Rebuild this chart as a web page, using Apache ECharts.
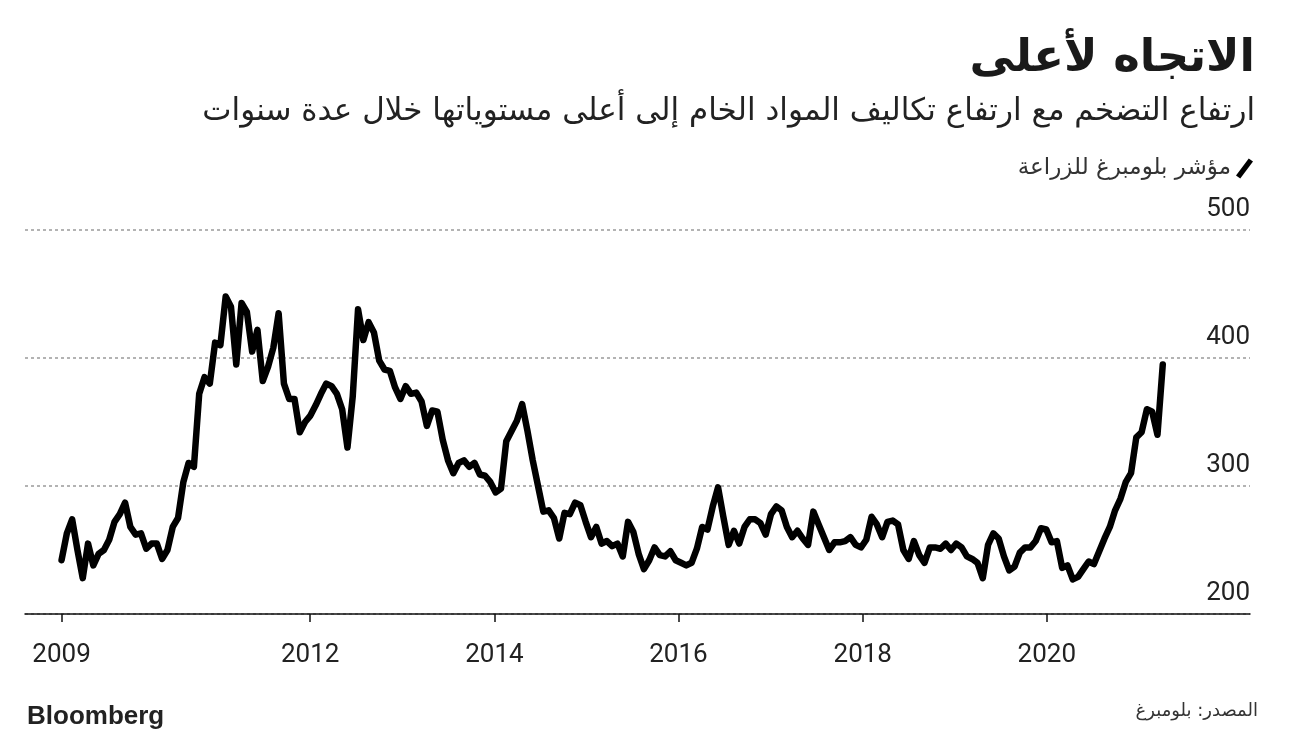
<!DOCTYPE html>
<html>
<head>
<meta charset="utf-8">
<script src="https://cdn.jsdelivr.net/npm/echarts@6/dist/echarts.min.js"></script>
<style>
  html, body { margin: 0; padding: 0; background: #fff; }
  #chart { width: 1296px; height: 744px; }
</style>
</head>
<body>
<div id="chart"></div>
<script>
// Bloomberg Agriculture index, one reading every 3 weeks
const startDate = '2009-04-20'
const stepDays = 21
const agriValues = [
  242, 263, 274, 250, 228, 255, 238, 247, 250, 258,
  272, 278, 287, 268, 262, 263, 251, 255, 255, 243,
  250, 268, 275, 303, 318, 315, 372, 385, 380, 412,
  410, 448, 440, 395, 443, 436, 405, 422, 382, 393,
  408, 435, 380, 368, 368, 342, 350, 355, 363, 372,
  380, 378, 372, 360, 330, 370, 438, 414, 428, 420,
  398, 391, 390, 377, 368, 378, 372, 373, 366, 347,
  359, 358, 336, 320, 310, 318, 320, 315, 318, 309,
  308, 303, 295, 298, 335, 343, 351, 364, 343, 320,
  300, 280, 281, 275, 259, 279, 278, 287, 285, 272,
  260, 268, 255, 257, 253, 255, 245, 272, 264, 247,
  235, 242, 252, 246, 245, 249, 242, 240, 238, 240,
  251, 268, 266, 284, 299, 276, 254, 265, 255, 268,
  274, 274, 271, 262, 278, 284, 281, 268, 260, 265,
  259, 254, 280, 270, 260, 250, 256, 256, 257, 260,
  254, 252, 258, 276, 270, 260, 272, 273, 270, 250,
  243, 257, 246, 240, 252, 252, 251, 255, 250, 255,
  252, 245, 243, 240, 228, 254, 263, 259, 245, 234,
  237, 248, 252, 252, 257, 267, 266, 256, 257, 236,
  238, 227, 229, 235, 241, 239, 249, 259, 268, 281,
  290, 303, 310, 338, 342, 360, 358, 340, 395,
]

const tickDates = ['2009-04-20', '2012-01-01', '2014-01-01', '2016-01-01', '2018-01-01', '2020-01-01']
const tickLabels = ['2009', '2012', '2014', '2016', '2018', '2020']
const axisStart = '2008-11-26'
const axisEnd = '2022-03-17'

const titleText = 'الاتجاه لأعلى'
const subtitleText = 'ارتفاع التضخم مع ارتفاع تكاليف المواد الخام إلى أعلى مستوياتها خلال عدة سنوات'
const seriesName = 'مؤشر بلومبرغ للزراعة'
const sourceText = 'المصدر: بلومبرغ'

const DAY = 86400000
const toTime = (s) => Date.parse(s + 'T00:00:00Z')
const t0 = toTime(startDate)
const lineData = agriValues.map((v, i) => [t0 + i * stepDays * DAY, v])
const tickTimes = tickDates.map(toTime)

const arabicFont = 'DejaVu Sans'
const numFont = 'Roboto'

const chart = echarts.init(document.getElementById('chart'))
chart.setOption({
  animation: false,
  backgroundColor: '#fff',
  grid: {
    left: 25,
    right: 46,
    top: 230,
    bottom: 130,
  },
  legend: {
    right: 38,
    top: 152,
    align: 'right',
    icon: 'path://M0,16 L12,0 L16,3 L4,19 Z',
    itemWidth: 17,
    itemHeight: 21,
    itemGap: 10,
    textStyle: {
      fontFamily: arabicFont,
      fontSize: 23,
      color: '#333',
    },
    data: [seriesName],
  },
  xAxis: {
    type: 'value',
    min: toTime(axisStart),
    max: toTime(axisEnd),
    splitLine: { show: false },
    axisLine: {
      show: true,
      onZero: false,
      lineStyle: { color: '#111', width: 1.5 },
    },
    axisTick: {
      show: true,
      length: 8,
      customValues: tickTimes,
      lineStyle: { color: '#111', width: 1.5 },
    },
    axisLabel: {
      customValues: tickTimes,
      margin: 28,
      fontFamily: numFont,
      fontSize: 26,
      color: '#222',
      formatter: (val) => {
        const idx = tickTimes.indexOf(val)
        return idx >= 0 ? tickLabels[idx] : ''
      },
    },
  },
  yAxis: {
    type: 'value',
    position: 'right',
    min: 200,
    max: 500,
    interval: 100,
    axisLine: { show: false },
    axisTick: { show: false },
    splitLine: {
      show: true,
      lineStyle: { type: [3, 3], color: '#9a9a9a', width: 1.5 },
    },
    axisLabel: {
      inside: true,
      margin: 0,
      verticalAlign: 'bottom',
      padding: [0, 0, 8, 0],
      fontFamily: numFont,
      fontSize: 26,
      color: '#222',
    },
  },
  series: [
    {
      name: seriesName,
      type: 'line',
      data: lineData,
      symbol: 'none',
      showSymbol: false,
      itemStyle: { color: '#000' },
      lineStyle: { color: '#000', width: 6.5, join: 'round', cap: 'round' },
    },
  ],
  graphic: [
    {
      type: 'text',
      right: 41,
      top: 37,
      style: {
        text: titleText,
        font: 'bold 45px "DejaVu Sans"',
        fill: '#1a1a1a',
      },
    },
    {
      type: 'text',
      right: 41,
      top: 96,
      style: {
        text: subtitleText,
        font: '31px "DejaVu Sans"',
        fill: '#222',
      },
    },
    {
      type: 'text',
      left: 27,
      top: 704,
      style: {
        text: 'Bloomberg',
        font: 'bold 26px "Liberation Sans"',
        fill: '#222',
      },
    },
    {
      type: 'text',
      right: 38,
      top: 702,
      style: {
        text: sourceText,
        font: '18px "DejaVu Sans"',
        fill: '#333',
      },
    },
  ],
})
</script>
</body>
</html>
